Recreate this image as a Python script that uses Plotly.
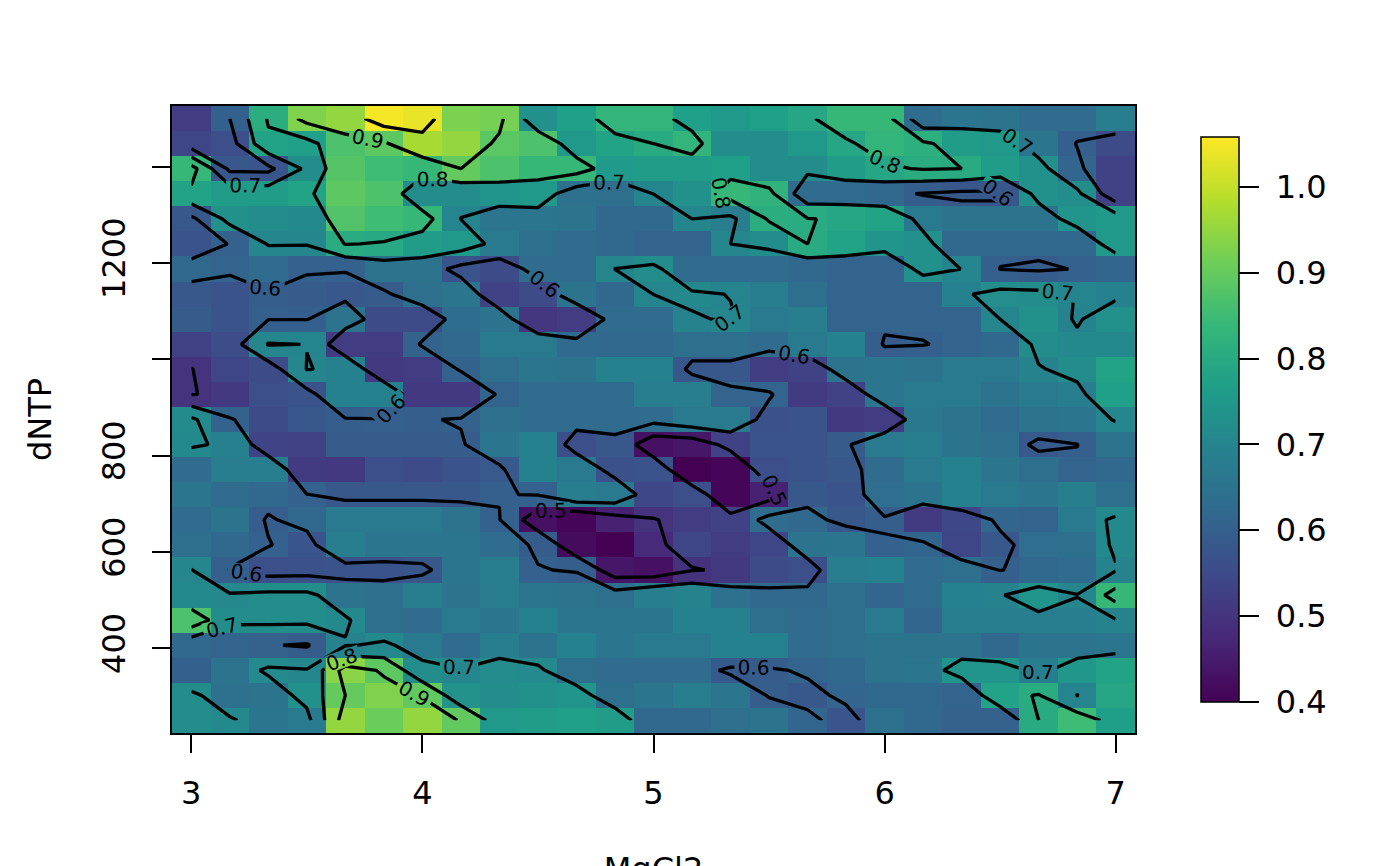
import plotly.graph_objects as go

MgCl2 = [3, 3.1667, 3.3333, 3.5, 3.6667, 3.8333, 4, 4.1667, 4.3333, 4.5, 4.6667, 4.8333, 5,
         5.1667, 5.3333, 5.5, 5.6667, 5.8333, 6, 6.1667, 6.3333, 6.5, 6.6667, 6.8333, 7]
dNTP = [250, 302.1, 354.2, 406.2, 458.3, 510.4, 562.5, 614.6, 666.7, 718.8, 770.8, 822.9, 875,
        927.1, 979.2, 1031.2, 1083.3, 1135.4, 1187.5, 1239.6, 1291.7, 1343.8, 1395.8, 1447.9, 1500]

r00 = [.52,.60,.81,.93,.95,1.05,1.037,.925,.92,.73,.77,.83,.83,.77,.75,.77,.79,.84,.84,.63,.66,.65,.63,.63,.68]
r01 = [.54,.56,.78,.77,.87,.89,.97,.95,.886,.87,.75,.78,.80,.83,.72,.72,.75,.79,.83,.815,.76,.75,.66,.597,.55]
r02 = [.84,.58,.575,.72,.88,.85,.84,.90,.87,.84,.84,.755,.76,.76,.77,.72,.72,.76,.79,.805,.80,.76,.73,.615,.53]
r03 = [.78,.76,.76,.78,.89,.87,.72,.72,.74,.75,.645,.64,.701,.73,.84,.825,.63,.63,.62,.595,.58,.58,.73,.72,.53]
r04 = [.58,.73,.72,.71,.875,.85,.84,.699,.66,.66,.65,.62,.62,.70,.68,.81,.803,.79,.78,.67,.65,.65,.65,.74,.75]
r05 = [.57,.602,.705,.705,.803,.795,.76,.75,.67,.64,.63,.62,.61,.61,.70,.72,.80,.78,.74,.73,.62,.62,.62,.62,.75]
r06 = [.62,.61,.63,.603,.603,.65,.65,.57,.55,.63,.63,.701,.72,.63,.63,.63,.62,.61,.61,.73,.699,.598,.59,.603,.615]
r07 = [.58,.57,.595,.59,.58,.59,.64,.66,.53,.55,.65,.62,.701,.71,.698,.68,.64,.61,.61,.61,.69,.725,.72,.698,.69]
r08 = [.59,.57,.598,.598,.65,.55,.55,.633,.65,.505,.52,.63,.63,.695,.705,.67,.68,.61,.61,.61,.61,.70,.73,.695,.73]
r09 = [.53,.555,.705,.699,.52,.52,.608,.62,.67,.67,.624,.62,.62,.64,.64,.63,.67,.69,.594,.598,.61,.62,.72,.71,.71]
r10 = [.498,.54,.55,.702,.69,.51,.52,.608,.64,.66,.65,.69,.69,.58,.58,.52,.53,.65,.66,.65,.67,.67,.695,.72,.78]
r11 = [.498,.51,.56,.57,.69,.69,.51,.51,.61,.63,.63,.63,.68,.68,.61,.61,.515,.53,.66,.67,.67,.65,.67,.68,.77]
r12 = [.717,.607,.55,.58,.595,.598,.595,.605,.64,.63,.63,.63,.63,.67,.67,.565,.57,.51,.52,.665,.65,.63,.65,.66,.705]
r13 = [.71,.687,.535,.53,.59,.59,.59,.592,.66,.69,.56,.58,.43,.44,.53,.57,.57,.59,.67,.68,.65,.64,.585,.599,.65]
r14 = [.63,.68,.68,.515,.51,.56,.55,.57,.585,.69,.67,.565,.57,.40,.41,.56,.57,.58,.63,.67,.69,.66,.64,.61,.62]
r15 = [.66,.63,.62,.602,.58,.58,.58,.58,.597,.603,.68,.67,.545,.56,.41,.46,.58,.57,.635,.65,.69,.67,.66,.685,.64]
r16 = [.63,.65,.594,.62,.67,.67,.67,.65,.603,.43,.41,.46,.497,.52,.53,.63,.62,.58,.595,.515,.545,.615,.61,.67,.71]
r17 = [.64,.62,.603,.575,.68,.66,.66,.66,.63,.59,.42,.40,.48,.54,.52,.54,.65,.66,.604,.613,.54,.58,.635,.64,.712]
r18 = [.703,.598,.56,.565,.57,.57,.58,.66,.68,.603,.595,.44,.43,.495,.51,.55,.56,.68,.69,.63,.64,.598,.62,.63,.695]
r19 = [.71,.708,.72,.72,.65,.64,.68,.65,.68,.66,.65,.64,.685,.695,.645,.62,.62,.64,.615,.63,.69,.695,.74,.702,.84]
r20 = [.87,.72,.72,.72,.71,.64,.63,.67,.66,.69,.66,.66,.66,.69,.69,.64,.63,.64,.67,.615,.68,.68,.68,.68,.695]
r21 = [.62,.61,.605,.592,.695,.712,.67,.63,.68,.65,.69,.66,.67,.67,.69,.69,.63,.64,.65,.65,.65,.62,.65,.65,.66]
r22 = [.60,.65,.714,.705,.94,.89,.72,.705,.718,.713,.64,.63,.63,.63,.587,.59,.61,.62,.65,.655,.74,.74,.68,.745,.78]
r23 = [.72,.645,.65,.73,.90,.93,.895,.735,.72,.73,.74,.64,.66,.68,.66,.595,.58,.615,.62,.62,.61,.777,.805,.698,.79]
r24 = [.72,.71,.66,.67,.95,.905,.95,.895,.75,.76,.77,.76,.62,.62,.64,.65,.615,.575,.645,.62,.605,.605,.80,.85,.768]

response = [r24, r23, r22, r21, r20, r19, r18, r17, r16, r15, r14, r13, r12,
            r11, r10, r09, r08, r07, r06, r05, r04, r03, r02, r01, r00]

x_ticks = [3, 4, 5, 6, 7]
y_ticks = [400, 600, 800, 1000, 1200, 1400]
y_labels = ["400", "600", "800", "", "1200", ""]
bar_ticks = [0.4, 0.5, 0.6, 0.7, 0.8, 0.9, 1.0]
bar_labels = ["0.4", "0.5", "0.6", "0.7", "0.8", "0.9", "1.0"]

FONT = "DejaVu Sans"
TS = 32
fig = go.Figure()
fig.add_trace(go.Heatmap(
    x=MgCl2, y=dNTP, z=response, colorscale="Viridis", zmin=0.4, zmax=1.058,
    hoverinfo="skip",
    colorbar=dict(
        thickness=38, thicknessmode="pixels", len=565, lenmode="pixels",
        x=(1201 - 172) / 963, xanchor="left", y=(733 - 137) / 627, yanchor="top",
        xpad=0, ypad=0, outlinecolor="black", outlinewidth=1.5,
        tickmode="array", tickvals=bar_ticks, ticktext=["\u00a0" + t for t in bar_labels],
        ticks="outside", ticklen=20, tickwidth=1.5, tickcolor="black",
        tickfont=dict(family=FONT, size=TS, color="black"),
    ),
))
fig.add_trace(go.Contour(
    x=MgCl2, y=dNTP, z=response, showscale=False, hoverinfo="skip",
    contours=dict(coloring="none", start=0.5, end=1.0, size=0.1, showlabels=True,
                  labelfont=dict(family=FONT, size=20, color="black"), labelformat=".1f"),
    line=dict(color="black", width=3.3, smoothing=0),
))
axis_common = dict(showgrid=False, zeroline=False, showline=True, mirror=True, linecolor="black", linewidth=1.5,
                   ticks="outside", ticklen=18, tickwidth=1.5, tickcolor="black", automargin=False,
                   tickfont=dict(family=FONT, size=TS, color="black"))
fig.update_layout(
    width=1392, height=880, margin=dict(l=164, r=265, t=98, b=155, autoexpand=False),
    paper_bgcolor="white", plot_bgcolor="white", showlegend=False,
    xaxis=dict(range=[2.9167, 7.0833], tickmode="array", tickvals=x_ticks,
               ticktext=[str(v) for v in x_ticks], ticklabelstandoff=13,
               title=dict(text="MgCl2", standoff=50, font=dict(family=FONT, size=TS, color="black")), **axis_common),
    yaxis=dict(range=[224, 1526], tickmode="array", tickvals=y_ticks, ticktext=y_labels,
               tickangle=-90, ticklabelstandoff=14,
               title=dict(text="dNTP", standoff=34, font=dict(family=FONT, size=TS, color="black")), **axis_common),
)
fig.write_html("out.html")
